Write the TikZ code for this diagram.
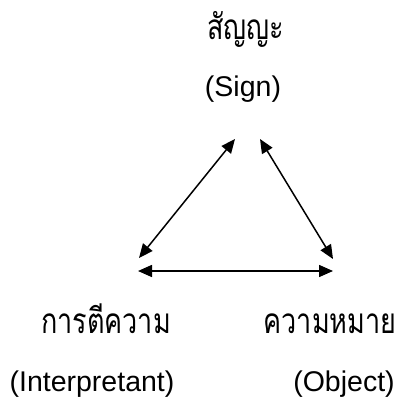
\documentclass[tikz,border=0pt]{standalone}
\usepackage{fontspec}
\usepackage{graphicx}
\setmainfont{Liberation Sans}
\newfontfamily\thaifont[Script=Thai]{Loma}
\newcommand{\thtxt}[1]{\scalebox{1}[1.3]{\thaifont #1}}
\usetikzlibrary{arrows.meta}
\tikzset{
  lbl/.style={font=\fontsize{28.5}{32}\selectfont, anchor=base, inner sep=0pt},
  thlbl/.style={font=\fontsize{27}{30}\selectfont, anchor=base, inner sep=0pt},
  rel/.style={line width=1.5pt, {Triangle[length=14pt,width=12pt]}-{Triangle[length=14pt,width=12pt]}}
}
\begin{document}
\begin{tikzpicture}[x=1pt,y=-1pt]
\useasboundingbox (0,0) rectangle (396,398);
\node[thlbl] (signth) at (246,40) {\thtxt{สัญญะ}};
\node[lbl] (sign) at (243,97) {(Sign)};
\node[thlbl] (intth) at (106,333) {\thtxt{การตีความ}};
\node[lbl] (int) at (92,391) {(Interpretant)};
\node[thlbl] (objth) at (330,333) {\thtxt{ความหมาย}};
\node[lbl] (obj) at (344,391) {(Object)};
\coordinate (sl) at (235,139);
\coordinate (sr) at (260,139);
\coordinate (il) at (139,258);
\coordinate (or) at (333,259);
\coordinate (hl) at (138,271);
\coordinate (hr) at (333,271);
\draw[rel] (il) -- (sl);
\draw[rel] (sr) -- (or);
\draw[rel] (hl) -- (hr);
\end{tikzpicture}
\end{document}
